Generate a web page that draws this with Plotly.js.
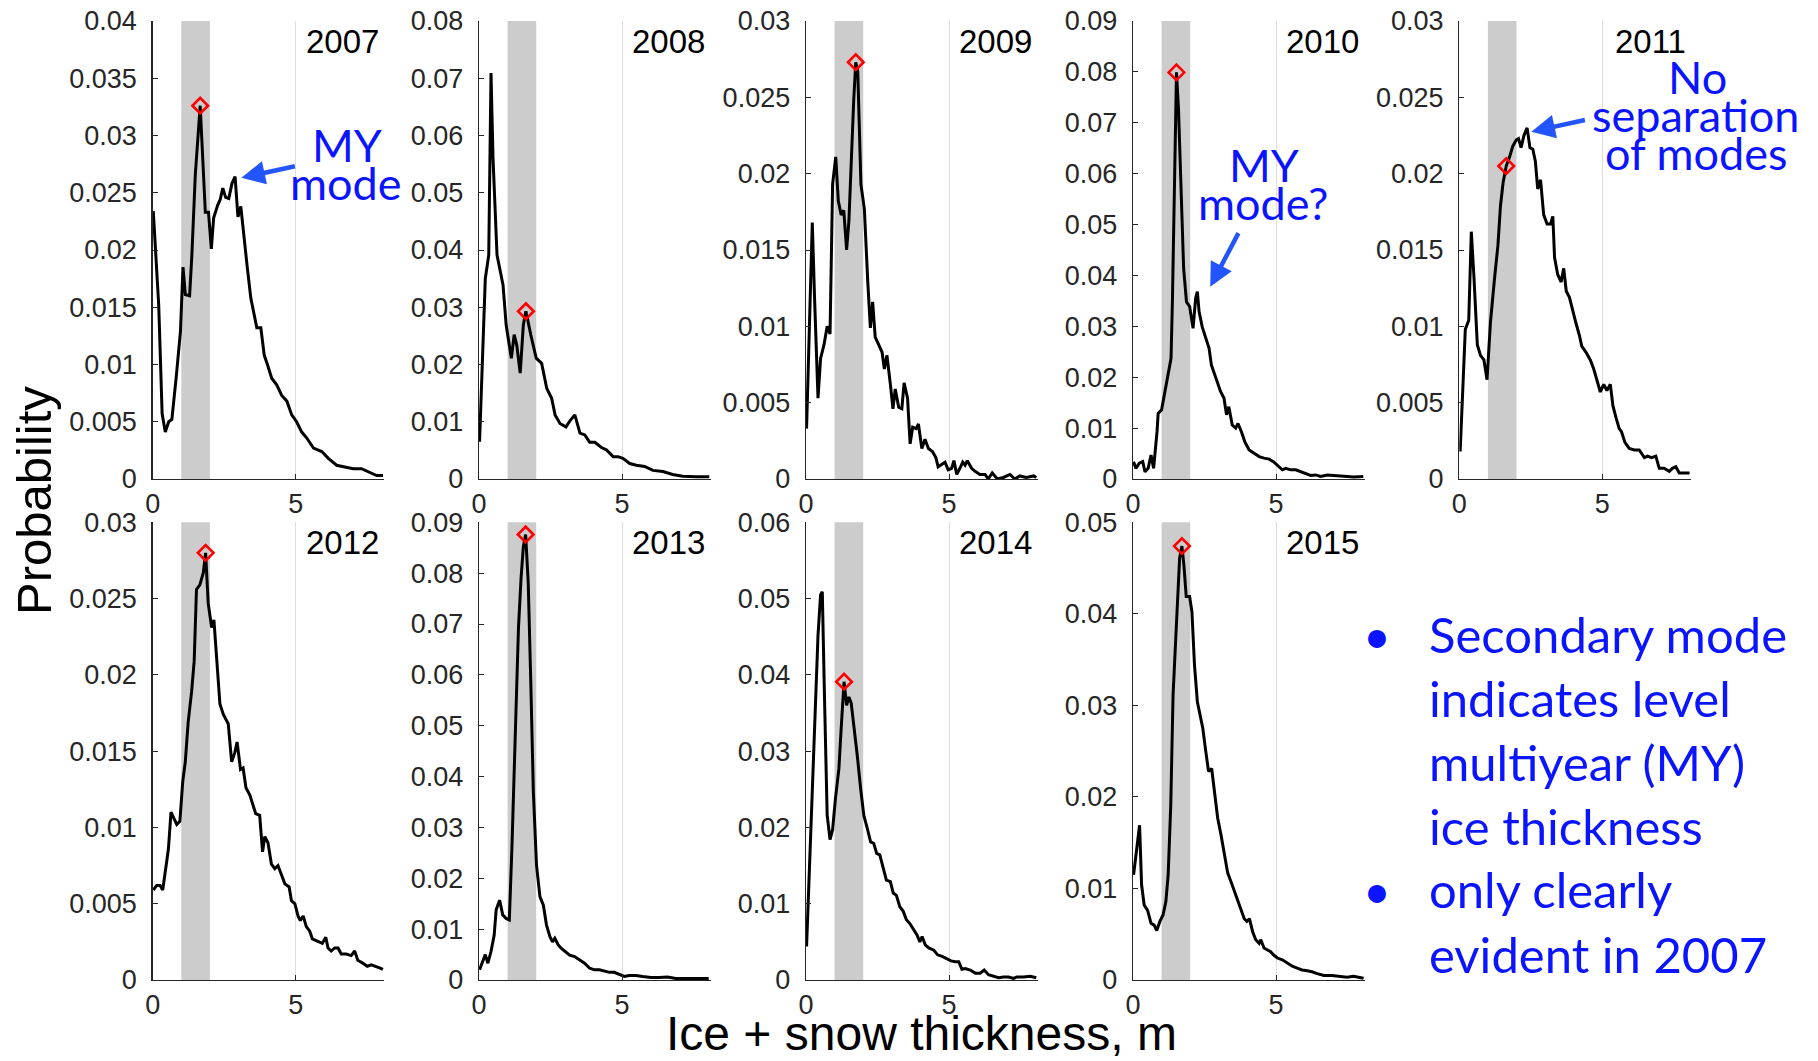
<!DOCTYPE html>
<html><head><meta charset="utf-8">
<script src="https://cdn.plot.ly/plotly-3.0.1.min.js"></script>
<style>html,body{margin:0;padding:0;background:#fff}#chart{width:1818px;height:1061px}</style>
</head><body><div id="chart"></div><script>
// ---- data ----
const years = ['2007','2008','2009','2010','2011','2012','2013','2014','2015'];

const x2007 = [0.02,0.21,0.33,0.44,0.56,0.67,0.83,0.97,1.06,1.14,1.29,1.37,1.49,1.66,1.84,1.95,2.05,2.13,2.27,2.36,2.45,2.55,2.66,2.77,2.88,2.98,3.08,3.2,3.31,3.43,3.55,3.64,3.78,3.9,4.01,4.16,4.34,4.51,4.69,4.86,5.03,5.21,5.38,5.62,5.91,6.14,6.43,6.66,7.01,7.3,7.59,7.83,8.05];
const p2007 = [0.0234,0.0152,0.0057,0.0041,0.005,0.0052,0.0091,0.0129,0.0185,0.0161,0.016,0.0196,0.0266,0.0326,0.0233,0.0233,0.0201,0.0228,0.0239,0.0244,0.0254,0.0246,0.0245,0.0258,0.0264,0.0229,0.0238,0.0207,0.0184,0.0158,0.0143,0.0132,0.0132,0.0108,0.01,0.0088,0.0082,0.0073,0.0068,0.0056,0.005,0.0041,0.0036,0.0027,0.0024,0.0018,0.0012,0.0011,0.0009,0.0009,0.0006,0.0003,0.0003];

const x2008 = [0.02,0.22,0.34,0.42,0.49,0.63,0.84,0.95,1.13,1.23,1.32,1.44,1.55,1.64,1.81,2.0,2.19,2.37,2.54,2.66,2.83,3.04,3.2,3.35,3.53,3.7,3.87,4.05,4.28,4.45,4.69,4.86,5.03,5.27,5.5,5.79,6.08,6.43,6.77,7.12,7.59,8.05];
const p2008 = [0.0065,0.035,0.0391,0.0709,0.056,0.0391,0.0339,0.0269,0.0211,0.0252,0.0234,0.0185,0.0269,0.0293,0.0252,0.0211,0.0202,0.0158,0.0141,0.0112,0.0097,0.0091,0.0103,0.0112,0.008,0.0077,0.0064,0.0064,0.0055,0.0051,0.0039,0.0039,0.0036,0.0027,0.0024,0.0022,0.0015,0.0013,0.0008,0.0005,0.0004,0.0004];

const x2009 = [0.02,0.14,0.22,0.3,0.42,0.51,0.63,0.74,0.84,0.93,1.04,1.13,1.23,1.32,1.42,1.5,1.58,1.67,1.74,1.81,1.92,2.04,2.16,2.25,2.33,2.42,2.54,2.66,2.74,2.83,2.95,3.04,3.12,3.24,3.35,3.43,3.55,3.64,3.73,3.85,3.93,4.05,4.16,4.28,4.42,4.54,4.62,4.86,4.97,5.09,5.17,5.27,5.38,5.48,5.56,5.64,5.79,5.91,6.08,6.26,6.37,6.51,6.69,6.9,7.13,7.3,7.47,7.7,7.96,8.05];
const p2009 = [0.0033,0.0112,0.0168,0.0118,0.0053,0.0079,0.0088,0.01,0.0095,0.0193,0.0211,0.0182,0.0173,0.0176,0.015,0.0169,0.0212,0.0249,0.0273,0.0267,0.0193,0.0177,0.0129,0.0099,0.0116,0.0093,0.0088,0.0083,0.0072,0.0081,0.0062,0.0046,0.0059,0.0047,0.0046,0.0063,0.0053,0.0023,0.0034,0.0033,0.0036,0.002,0.0026,0.002,0.0018,0.0014,0.0008,0.0011,0.0006,0.0007,0.0012,0.0003,0.0007,0.0011,0.0009,0.0012,0.0007,0.0005,0.0003,0.0003,0.0,0.0004,0.0,0.0001,0.0003,0.0,0.0002,0.0001,0.0002,0.0001];

const x2010 = [0.02,0.1,0.22,0.34,0.42,0.53,0.63,0.72,0.84,0.88,1.0,1.09,1.21,1.33,1.38,1.44,1.52,1.59,1.67,1.77,1.87,1.98,2.1,2.19,2.25,2.31,2.42,2.54,2.66,2.74,2.86,2.97,3.06,3.18,3.27,3.35,3.47,3.59,3.67,3.79,3.91,4.06,4.23,4.41,4.58,4.76,4.91,5.05,5.22,5.34,5.51,5.69,5.86,6.03,6.21,6.38,6.56,6.79,7.08,7.37,7.72,8.05];
const p2010 = [0.0034,0.0021,0.0031,0.0034,0.0014,0.0021,0.0047,0.0021,0.0093,0.0129,0.0136,0.0165,0.0204,0.0237,0.0355,0.0584,0.0799,0.0728,0.0584,0.0414,0.0348,0.0339,0.0296,0.0355,0.0368,0.0329,0.0299,0.0276,0.0257,0.0224,0.0204,0.0185,0.0172,0.0159,0.0126,0.0142,0.0106,0.01,0.0109,0.0093,0.0073,0.0057,0.005,0.0044,0.0041,0.0039,0.0034,0.0026,0.0018,0.0021,0.0018,0.0018,0.0014,0.0011,0.0007,0.0008,0.0005,0.0008,0.0007,0.0005,0.0004,0.0005];

const x2011 = [0.03,0.13,0.21,0.33,0.42,0.51,0.63,0.74,0.86,0.97,1.09,1.23,1.35,1.44,1.53,1.64,1.76,1.87,1.99,2.07,2.16,2.26,2.37,2.47,2.57,2.66,2.74,2.84,2.95,3.07,3.19,3.27,3.33,3.44,3.56,3.65,3.74,3.85,3.97,4.08,4.2,4.28,4.43,4.58,4.7,4.81,4.93,5.05,5.16,5.28,5.37,5.48,5.59,5.67,5.79,5.94,6.12,6.29,6.47,6.58,6.72,6.87,6.99,7.16,7.34,7.45,7.57,7.69,7.86,8.05];
const p2011 = [0.0018,0.0064,0.0098,0.0104,0.0162,0.0133,0.0088,0.0081,0.0078,0.0065,0.0103,0.0131,0.0153,0.0179,0.0194,0.0205,0.0211,0.0218,0.0222,0.0223,0.0217,0.0225,0.023,0.0217,0.0216,0.0208,0.019,0.0196,0.0173,0.0167,0.0167,0.0172,0.0145,0.0134,0.0129,0.0138,0.0123,0.0119,0.0109,0.0102,0.0094,0.0087,0.0083,0.0078,0.0072,0.0065,0.0057,0.0062,0.0058,0.0062,0.0048,0.004,0.0033,0.0031,0.0024,0.002,0.0019,0.0019,0.0014,0.0015,0.0014,0.0015,0.0007,0.0007,0.0005,0.0007,0.0008,0.0004,0.0004,0.0004];

const x2012 = [0.02,0.14,0.26,0.35,0.47,0.55,0.64,0.74,0.84,0.95,1.05,1.14,1.24,1.36,1.45,1.53,1.65,1.77,1.85,1.94,2.06,2.14,2.23,2.35,2.47,2.64,2.76,2.87,2.95,3.07,3.16,3.26,3.4,3.51,3.6,3.74,3.84,3.92,4.03,4.15,4.27,4.38,4.5,4.62,4.77,4.85,4.97,5.08,5.16,5.26,5.37,5.49,5.58,5.72,5.84,5.93,6.05,6.13,6.24,6.36,6.48,6.59,6.77,6.94,7.06,7.17,7.35,7.5,7.64,7.81,7.93,8.05];
const p2012 = [0.0059,0.0062,0.0062,0.0059,0.0075,0.0086,0.011,0.0106,0.0102,0.0104,0.013,0.0143,0.0169,0.0189,0.0209,0.0256,0.0259,0.0267,0.028,0.0247,0.0231,0.0236,0.0211,0.0181,0.0174,0.0168,0.0143,0.0149,0.0156,0.0138,0.0139,0.0126,0.0121,0.0115,0.0109,0.0108,0.0084,0.0094,0.009,0.0076,0.0073,0.0075,0.0069,0.0063,0.0061,0.0052,0.005,0.0042,0.0039,0.0042,0.0035,0.0032,0.0027,0.0026,0.0025,0.0024,0.0028,0.0021,0.0019,0.0021,0.0021,0.0017,0.0017,0.0016,0.0019,0.0013,0.0011,0.0009,0.001,0.0009,0.0008,0.0007];

const x2013 = [0.02,0.14,0.22,0.31,0.42,0.53,0.6,0.72,0.83,0.95,1.06,1.15,1.26,1.38,1.47,1.55,1.63,1.72,1.81,1.9,2.01,2.13,2.25,2.36,2.48,2.57,2.65,2.77,2.88,3.03,3.17,3.34,3.52,3.69,3.87,4.04,4.21,4.39,4.56,4.73,4.91,5.08,5.25,5.49,5.72,6.01,6.3,6.59,6.88,7.22,7.57,7.8,8.03];
const p2013 = [0.002,0.0036,0.005,0.0033,0.0056,0.0088,0.0138,0.0157,0.0128,0.0121,0.0118,0.0259,0.0488,0.0692,0.079,0.0852,0.0876,0.0783,0.0587,0.037,0.0226,0.0164,0.0147,0.0108,0.0085,0.0075,0.0082,0.0069,0.0062,0.0056,0.0049,0.0046,0.0039,0.0033,0.0023,0.002,0.002,0.0018,0.0015,0.0015,0.0011,0.0007,0.0009,0.0009,0.0007,0.0005,0.0005,0.0006,0.0003,0.0003,0.0003,0.0004,0.0003];

const x2014 = [0.02,0.14,0.26,0.42,0.51,0.57,0.65,0.74,0.84,0.93,1.03,1.15,1.23,1.33,1.42,1.5,1.58,1.67,1.79,1.91,2.02,2.14,2.26,2.37,2.47,2.58,2.7,2.81,2.95,3.05,3.16,3.28,3.4,3.51,3.63,3.77,3.88,3.98,4.06,4.17,4.29,4.47,4.6,4.76,4.91,5.07,5.22,5.34,5.45,5.57,5.74,5.92,6.09,6.23,6.38,6.56,6.73,6.91,7.08,7.26,7.37,7.6,7.84,8.05];
const p2014 = [0.0044,0.0173,0.0304,0.0452,0.0505,0.0509,0.0365,0.0216,0.0184,0.0197,0.0238,0.0277,0.033,0.0391,0.036,0.0371,0.0363,0.0336,0.0295,0.0251,0.0216,0.0199,0.0181,0.0179,0.0166,0.0164,0.0146,0.0131,0.0129,0.0114,0.0111,0.0096,0.009,0.0079,0.0074,0.0066,0.0059,0.005,0.0057,0.0046,0.0042,0.0039,0.0033,0.0031,0.0028,0.0025,0.0024,0.0024,0.0014,0.0015,0.0013,0.0009,0.0009,0.0013,0.0007,0.0005,0.0003,0.0004,0.0004,0.0002,0.0004,0.0004,0.0005,0.0003];

const x2015 = [0.02,0.13,0.23,0.3,0.39,0.51,0.63,0.74,0.83,0.94,1.05,1.15,1.23,1.32,1.4,1.49,1.57,1.63,1.71,1.78,1.86,1.98,2.06,2.15,2.25,2.33,2.44,2.53,2.64,2.75,2.85,2.96,3.08,3.19,3.31,3.43,3.54,3.66,3.77,3.89,3.98,4.07,4.18,4.29,4.41,4.47,4.58,4.7,4.81,4.93,5.05,5.22,5.39,5.57,5.74,5.91,6.09,6.26,6.44,6.67,6.96,7.25,7.48,7.71,7.88,8.06];
const p2015 = [0.0115,0.0144,0.0169,0.0104,0.0082,0.0076,0.0062,0.006,0.0054,0.0064,0.0071,0.0086,0.0115,0.0191,0.0311,0.037,0.0424,0.0461,0.0474,0.0453,0.0419,0.0419,0.0402,0.0344,0.0304,0.029,0.0275,0.0253,0.0228,0.0231,0.0202,0.0177,0.0158,0.014,0.0117,0.0107,0.0097,0.0086,0.0078,0.0067,0.0064,0.0067,0.0053,0.0044,0.004,0.0044,0.0035,0.0033,0.0031,0.0027,0.0024,0.0022,0.0019,0.0015,0.0013,0.0011,0.001,0.0009,0.0007,0.0005,0.0005,0.0004,0.0003,0.0004,0.0003,0.0002];

// red diamonds: mode within the 1-2 m band
const modeX = [1.66,1.64,1.74,1.52,1.64,1.85,1.63,1.33,1.71];
const modeY = [0.0326,0.0293,0.0273,0.0799,0.0205,0.028,0.0876,0.0391,0.0474];

// axis limits / ticks
const yMax  = [0.04,0.08,0.03,0.09,0.03,0.03,0.09,0.06,0.05];
const yStep = [0.005,0.01,0.005,0.01,0.005,0.005,0.01,0.01,0.01];
const xRange = [0, 8.1];
const xTickVals = [0, 5];
const band = [1, 2];

// annotations text
const xLabel = 'Ice + snow thickness, m';
const yLabel = 'Probability';
const note2007 = ['MY', 'mode'];
const note2010 = ['MY', 'mode?'];
const note2011 = ['No', 'separation', 'of modes'];
const bullets = [['Secondary mode','indicates level','multiyear (MY)','ice thickness'],['only clearly','evident in 2007']];

const xs = [x2007,x2008,x2009,x2010,x2011,x2012,x2013,x2014,x2015];
const ps = [p2007,p2008,p2009,p2010,p2011,p2012,p2013,p2014,p2015];

// ---- layout geometry (pixels of the 1818x1061 page) ----
const W = 1818, H = 1061;
const colLeft = [152.7, 479, 806, 1133, 1459.3];
const panelW = 231.7;
const rowTop = [21, 522.3], rowBot = [479, 980];
const px = v => v / W;
const py = v => 1 - v / H;

const AX = '"Liberation Sans", Arial, Helvetica, sans-serif';
const BL = 'Lato, "Open Sans", sans-serif';
const blue = 'rgb(10,20,255)';
const arrowBlue = 'rgb(35,85,255)';

const data = [];
const layout = {
  width: W, height: H, autosize: false,
  margin: {l:0, r:0, t:0, b:0},
  paper_bgcolor: '#fff', plot_bgcolor: 'rgba(0,0,0,0)',
  showlegend: false,
  shapes: [], annotations: []
};

years.forEach((yr, i) => {
  const s = i === 0 ? '' : String(i + 1);
  const row = i < 5 ? 0 : 1, col = i < 5 ? i : i - 5;
  const l = colLeft[col];
  layout['xaxis' + s] = {
    domain: [px(l), px(l + panelW)], anchor: 'y' + s,
    range: xRange, tickvals: xTickVals, ticks: 'inside', ticklen: 5,
    tickcolor: '#262626', showline: true, linecolor: '#262626', linewidth: 1.4,
    showgrid: true, gridcolor: '#dedede', gridwidth: 1, zeroline: false,
    tickfont: {family: AX, size: 27, color: '#262626'}, ticklabelstandoff: 0,
    fixedrange: true
  };
  const tv = [];
  for (let k = 0; k <= Math.round(yMax[i] / yStep[i]); k++) tv.push(+(k * yStep[i]).toFixed(4));
  layout['yaxis' + s] = {
    domain: [py(rowBot[row]), py(rowTop[row])], anchor: 'x' + s,
    range: [0, yMax[i]], tickvals: tv, ticktext: tv.map(v => String(v)),
    ticks: 'inside', ticklen: 5, tickcolor: '#262626',
    showline: true, linecolor: '#262626', linewidth: 1.4,
    showgrid: false, zeroline: false,
    tickfont: {family: AX, size: 27, color: '#262626'}, ticklabelstandoff: 9,
    fixedrange: true
  };
  layout.shapes.push({type: 'rect', xref: 'x' + s, yref: 'y' + s + ' domain',
    x0: band[0], x1: band[1], y0: 0, y1: 1, fillcolor: '#cccccc', line: {width: 0}, layer: 'below'});
  data.push({x: xs[i], y: ps[i], xaxis: 'x' + s, yaxis: 'y' + s, type: 'scatter', mode: 'lines',
    line: {color: '#000', width: 3}, hoverinfo: 'skip'});
  data.push({x: [modeX[i]], y: [modeY[i]], xaxis: 'x' + s, yaxis: 'y' + s, type: 'scatter', mode: 'markers',
    marker: {symbol: 'diamond-open', size: 12, color: '#ff0000', line: {width: 2.6, color: '#ff0000'}}, hoverinfo: 'skip'});
  layout.annotations.push({xref: 'x' + s + ' domain', yref: 'y' + s + ' domain', x: 0.985, y: 1.0,
    xanchor: 'right', yanchor: 'top', text: yr, showarrow: false,
    font: {family: AX, size: 33, color: '#000'}});
});

function txt(t, x, y, size, anchor) {
  layout.annotations.push({xref: 'paper', yref: 'paper', x: px(x), y: py(y), text: t,
    xanchor: anchor || 'center', yanchor: 'middle', showarrow: false, borderpad: 0,
    font: {family: BL, size: size, color: blue}});
}
function arrow(s, hx, hy, ax, ay) {
  layout.annotations.push({xref: 'x' + s, yref: 'y' + s, x: hx, y: hy, ax: ax, ay: ay,
    axref: 'pixel', ayref: 'pixel', text: '', showarrow: true, arrowhead: 2, arrowsize: 1.05,
    arrowwidth: 4.5, arrowcolor: arrowBlue, standoff: 0});
}

// axis titles
layout.annotations.push({xref: 'paper', yref: 'paper', x: px(922), y: 0, text: xLabel,
  showarrow: false, xanchor: 'center', yanchor: 'bottom', borderpad: 0, font: {family: AX, size: 48, color: '#000'}});
layout.annotations.push({xref: 'paper', yref: 'paper', x: px(34), y: py(501), text: yLabel, textangle: -90,
  showarrow: false, xanchor: 'center', yanchor: 'middle', font: {family: AX, size: 49, color: '#000'}});

// blue notes
txt(note2007[0], 347, 145, 45); txt(note2007[1], 346, 183, 45);
arrow('', 3.1, 0.0263, 55, -12);
txt(note2010[0], 1264, 165, 45); txt(note2010[1], 1263, 203, 45);
arrow('4', 2.70, 0.0378, 29, -55);
txt(note2011[0], 1697, 77, 45); txt(note2011[1], 1695, 115, 45); txt(note2011[2], 1696, 153, 45);
arrow('5', 2.52, 0.02275, 55, -12);

// bullet list
const lineC = [634, 698, 762, 826, 889, 954];
let li = 0;
bullets.forEach(group => {
  txt('•', 1377, lineC[li], 48);
  group.forEach(t => { txt(t, 1428, lineC[li], 49, 'left'); li++; });
});

Plotly.newPlot('chart', data, layout, {staticPlot: true, displayModeBar: false});
</script></body></html>
